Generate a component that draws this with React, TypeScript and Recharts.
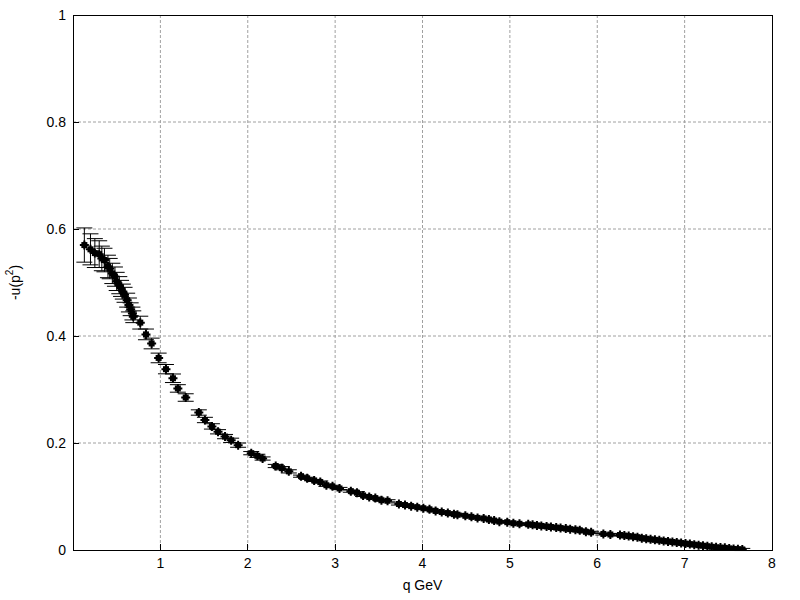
import { ScatterChart, Scatter, XAxis, YAxis, CartesianGrid, ErrorBar, ReferenceArea } from "recharts";

// momentum q (GeV)
const qValues = [
  0.13, 0.2, 0.25, 0.3, 0.33, 0.36, 0.4, 0.42, 0.45, 0.48, 0.5, 0.53, 0.55, 0.57, 0.59, 0.62, 0.64, 0.66, 0.68, 0.69,
  0.77, 0.835, 0.9, 0.98, 1.064, 1.144, 1.2, 1.29, 1.44, 1.51, 1.59, 1.66, 1.74, 1.81, 1.89, 2.04, 2.11, 2.17,
  2.32, 2.39, 2.47, 2.61, 2.68, 2.76, 2.83, 2.9, 2.97, 3.05, 3.18, 3.25, 3.32, 3.39, 3.46, 3.53, 3.6,
  3.73, 3.8, 3.87, 3.94, 4.01, 4.08, 4.15, 4.22, 4.29, 4.36, 4.4,
  4.49, 4.56, 4.63, 4.7, 4.76, 4.82, 4.88, 4.97, 5.04, 5.11,
  5.21, 5.26, 5.31, 5.36, 5.42, 5.47, 5.53, 5.58, 5.64, 5.69, 5.75, 5.8, 5.87, 5.93, 6.07, 6.15,
  6.26, 6.31, 6.36, 6.41, 6.46, 6.51, 6.56, 6.61, 6.66, 6.71, 6.76, 6.81, 6.86, 6.91, 6.96, 7.01,
  7.06, 7.11, 7.16, 7.21, 7.26, 7.31, 7.36, 7.41, 7.46, 7.51, 7.56, 7.61, 7.66,
];

// -u(p^2)
const uValues = [
  0.57, 0.562, 0.555, 0.553, 0.545, 0.542, 0.53, 0.526, 0.517, 0.511, 0.502, 0.495, 0.489, 0.483, 0.477, 0.467, 0.458, 0.45, 0.442, 0.436,
  0.425, 0.403, 0.386, 0.359, 0.338, 0.321, 0.302, 0.285, 0.257, 0.243, 0.231, 0.221, 0.212, 0.205, 0.196, 0.181, 0.176, 0.171,
  0.157, 0.153, 0.147, 0.138, 0.134, 0.13, 0.127, 0.121, 0.119, 0.115, 0.11, 0.107, 0.102, 0.099, 0.097, 0.093, 0.092,
  0.086, 0.084, 0.082, 0.08, 0.078, 0.076, 0.073, 0.071, 0.069, 0.067, 0.066,
  0.064, 0.062, 0.06, 0.059, 0.057, 0.055, 0.053, 0.052, 0.05, 0.049,
  0.048, 0.047, 0.046, 0.045, 0.044, 0.043, 0.042, 0.041, 0.04, 0.039, 0.038, 0.037, 0.034, 0.033, 0.03, 0.029,
  0.028, 0.027, 0.026, 0.025, 0.024, 0.022, 0.021, 0.02, 0.019, 0.018, 0.017, 0.016, 0.015, 0.014, 0.013, 0.012,
  0.011, 0.01, 0.009, 0.008, 0.007, 0.006, 0.005, 0.0045, 0.004, 0.003, 0.002, 0.0015, 0.001,
];

// statistical errors
const uErrors = [
  0.032, 0.029, 0.027, 0.025, 0.023, 0.022, 0.021, 0.019, 0.019, 0.018, 0.017, 0.016, 0.015, 0.014, 0.014, 0.013, 0.013, 0.012, 0.012, 0.011,
  0.012, 0.01, 0.01, 0.009, 0.0087, 0.008, 0.007, 0.007, 0.005, 0.005, 0.005, 0.004, 0.004, 0.004, 0.004, 0.003, 0.003, 0.003,
  0.003, 0.003, 0.003, 0.002, 0.002, 0.002, 0.002, 0.002, 0.002, 0.002, 0.002, 0.002, 0.002, 0.002, 0.002, 0.002, 0.002,
  0.002, 0.002, 0.002, 0.002, 0.002, 0.002, 0.002, 0.002, 0.002, 0.002, 0.002,
  0.002, 0.002, 0.002, 0.002, 0.002, 0.002, 0.002, 0.002, 0.002, 0.002,
  0.002, 0.002, 0.002, 0.002, 0.002, 0.002, 0.002, 0.002, 0.002, 0.002, 0.002, 0.002, 0.002, 0.002, 0.002, 0.002,
  0.002, 0.002, 0.002, 0.002, 0.002, 0.002, 0.002, 0.002, 0.002, 0.002, 0.002, 0.002, 0.002, 0.002, 0.002, 0.002,
  0.002, 0.002, 0.002, 0.002, 0.002, 0.002, 0.002, 0.002, 0.002, 0.002, 0.002, 0.002, 0.002,
];

const xTicks = [1, 2, 3, 4, 5, 6, 7, 8];
const yTicks = [0, 0.2, 0.4, 0.6, 0.8, 1];
const xGrid = [1, 2, 3, 4, 5, 6, 7];
const yGrid = [0.2, 0.4, 0.6, 0.8];

const data = qValues.map((q, i) => ({ q, u: uValues[i], err: uErrors[i] }));

const font = "'Liberation Sans', Arial, sans-serif";
const crisp = { stroke: "#000", shapeRendering: "crispEdges" } as any;

// filled square with small cross, like gnuplot's point
const Marker = (props: any) => {
  const { cx, cy } = props;
  if (cx == null || cy == null) return <g />;
  return (
    <g>
      <rect x={cx - 3} y={cy - 3} width={6} height={6} fill="#000" />
      <path d={`M${cx - 4.5},${cy}H${cx + 4.5}M${cx},${cy - 4.5}V${cy + 4.5}`} stroke="#000" strokeWidth={2} />
    </g>
  );
};

const NoTick = () => <g />;

const YTitle = (props: any) => {
  const { viewBox } = props;
  const x = 15;
  const y = viewBox.y + viewBox.height / 2;
  return (
    <text x={x} y={y} transform={`rotate(-90 ${x} ${y})`} textAnchor="middle" dominantBaseline="central" fontSize={14} fontFamily={font} fill="#000">
      -u(p<tspan fontSize={10} dy={-6}>2</tspan><tspan dy={6}>)</tspan>
    </text>
  );
};

const XTitle = (props: any) => {
  const { viewBox } = props;
  const x = viewBox.x + viewBox.width / 2;
  return (
    <text x={x} y={590} textAnchor="middle" fontSize={14} fontFamily={font} fill="#000">
      q GeV
    </text>
  );
};

export default function App() {
  return (
    <div style={{ position: "absolute", left: 0, top: 0, width: 800, height: 600, background: "#fff" }}>
      <ScatterChart width={800} height={600} margin={{ top: 15, right: 28, bottom: 0, left: 0 }} style={{ fontFamily: font }}>
        <CartesianGrid stroke="#a0a0a0" strokeDasharray="3 2" horizontalValues={yGrid} verticalValues={xGrid} />
        <XAxis
          dataKey="q"
          type="number"
          domain={[0, 8]}
          ticks={xTicks}
          allowDataOverflow
          height={50}
          tickSize={-6}
          tickMargin={14}
          tick={{ fill: "#000", fontSize: 14 }}
          axisLine={crisp}
          tickLine={crisp}
          label={{ content: XTitle }}
        />
        <YAxis
          dataKey="u"
          type="number"
          domain={[0, 1]}
          ticks={yTicks}
          allowDataOverflow
          width={73}
          tickSize={-6}
          tickMargin={13}
          tick={{ fill: "#000", fontSize: 14 }}
          axisLine={crisp}
          tickLine={crisp}
          label={{ content: YTitle }}
        />
        <XAxis
          xAxisId="top"
          dataKey="q"
          orientation="top"
          type="number"
          domain={[0, 8]}
          ticks={xTicks}
          allowDataOverflow
          height={0}
          tickSize={-6}
          tick={NoTick}
          axisLine={crisp}
          tickLine={crisp}
        />
        <YAxis
          yAxisId="right"
          dataKey="u"
          orientation="right"
          type="number"
          domain={[0, 1]}
          ticks={yTicks}
          allowDataOverflow
          width={0}
          tickSize={-6}
          tick={NoTick}
          axisLine={crisp}
          tickLine={crisp}
        />
        {/* frame around the plot area */}
        <ReferenceArea x1={0} x2={8} y1={0} y2={1} fill="none" stroke="#000" strokeWidth={1} shapeRendering="crispEdges" ifOverflow="visible" />
        <Scatter data={[]} xAxisId="top" yAxisId="right" isAnimationActive={false} />
        <Scatter data={data} fill="#000" shape={Marker} isAnimationActive={false}>
          <ErrorBar dataKey="err" direction="y" width={8} stroke="#000" strokeWidth={1} isAnimationActive={false} />
        </Scatter>
      </ScatterChart>
    </div>
  );
}
